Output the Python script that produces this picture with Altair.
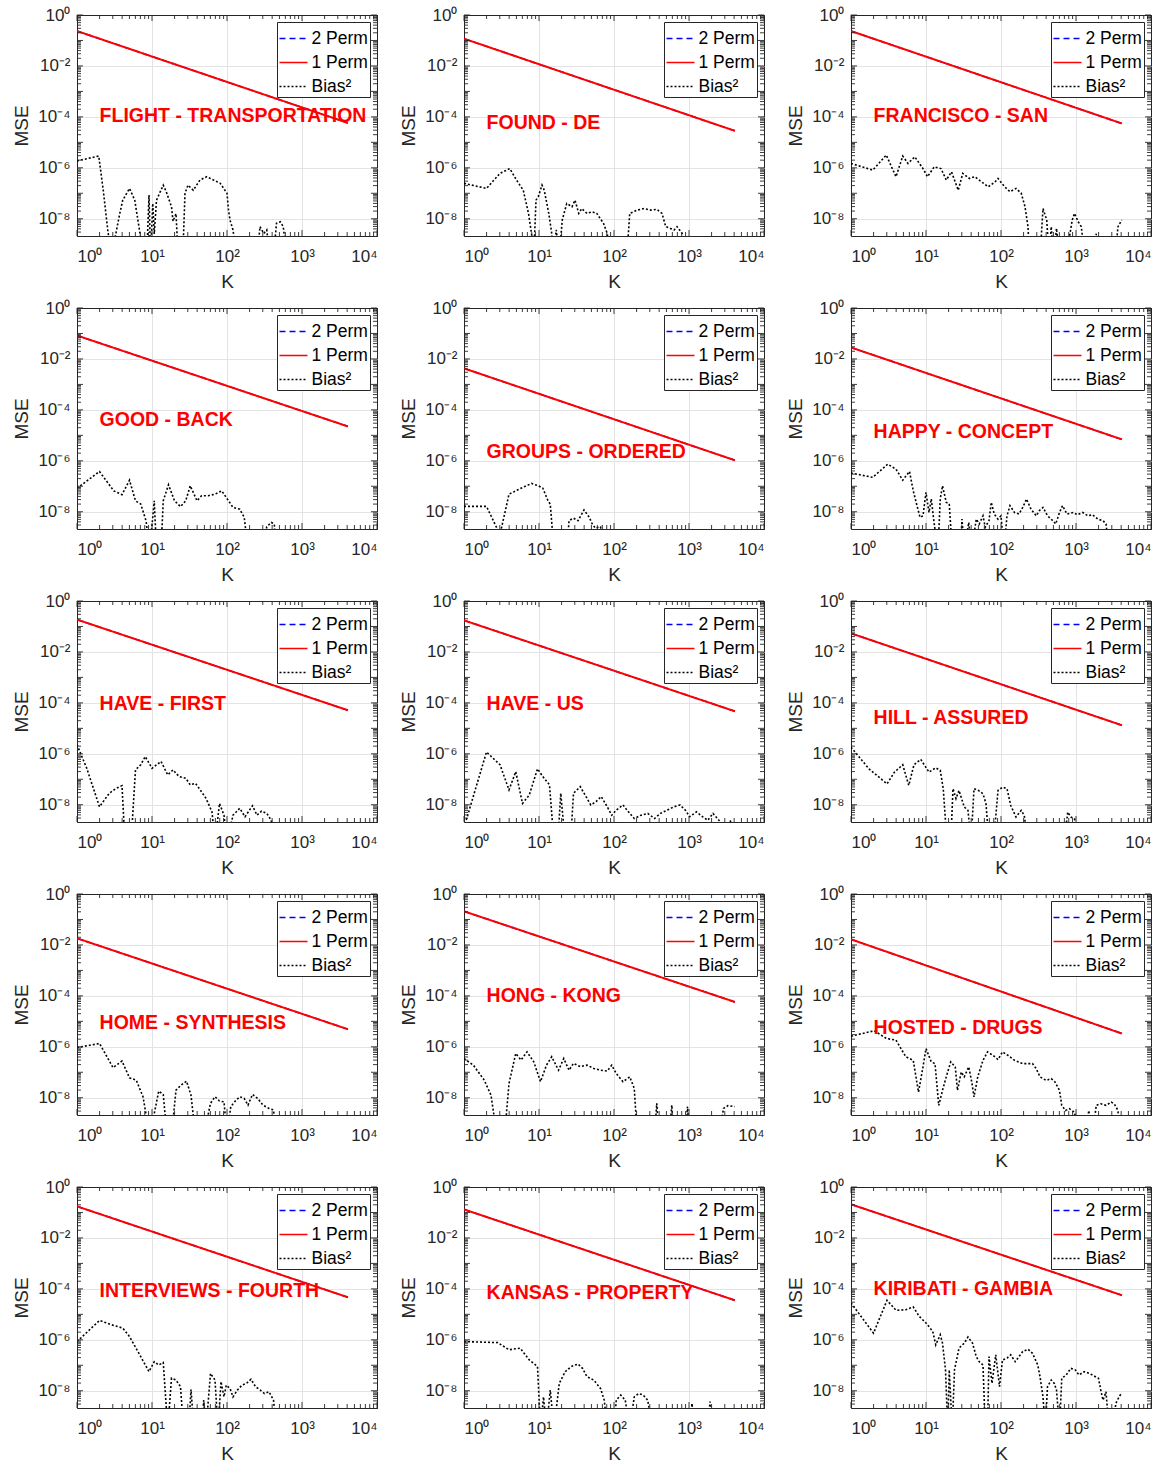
import altair as alt
import pandas as pd

# ---------------- data (log10 values) ----------------
B = -9.5  # below the visible bottom of the axis (clipped)

LABELS = ["FLIGHT - TRANSPORTATION", "FOUND - DE", "FRANCISCO - SAN",
          "GOOD - BACK", "GROUPS - ORDERED", "HAPPY - CONCEPT",
          "HAVE - FIRST", "HAVE - US", "HILL - ASSURED",
          "HOME - SYNTHESIS", "HONG - KONG", "HOSTED - DRUGS",
          "INTERVIEWS - FOURTH", "KANSAS - PROPERTY", "KIRIBATI - GAMBIA"]
LABEL_K = 2
LABEL_LOGY = [-3.97, -4.25, -3.97, -4.41, -5.67, -4.88, -4.06, -4.06, -4.61,
              -5.07, -4.01, -5.27, -4.09, -4.17, -4.01]

K_END = 4096
RED_LOG_START = [-0.63, -0.93, -0.63, -1.08, -2.37, -1.55, -0.73, -0.76, -1.27,
                 -1.74, -0.68, -1.78, -0.76, -0.88, -0.68]
RED_LOG_END = [-4.24, -4.55, -4.26, -4.65, -5.98, -5.16, -4.29, -4.33, -4.88,
               -5.31, -4.24, -5.48, -4.33, -4.45, -4.25]

bias01 = [(0, -5.73), (0.29, -5.54), (0.35, -6.88), (0.41, -8.44), (0.46, B), (0.53, -8.4), (0.57, -7.8),
          (0.61, -7.27), (0.70, -6.81), (0.77, -7.27), (0.84, -8.58), (0.87, B), (0.93, B), (0.96, -7.07),
          (0.98, B), (1.01, -7.4), (1.03, -8.6), (1.06, -7.27), (1.15, -6.68), (1.19, -6.94), (1.26, -7.53),
          (1.28, -8.1), (1.32, -7.8), (1.35, B), (1.41, B), (1.44, -7.0), (1.48, -6.68), (1.55, -6.88),
          (1.64, -6.48), (1.73, -6.35), (1.82, -6.48), (1.91, -6.61), (2.0, -7.0), (2.02, -7.66),
          (2.04, -8.05), (2.08, -8.44), (2.13, B), (2.40, B), (2.44, -8.31), (2.49, -8.58), (2.53, -8.44),
          (2.57, B), (2.62, B), (2.66, -8.18), (2.71, -8.12), (2.75, -8.31), (2.80, B), (3.61, B)]
bias02 = [(0, -6.61), (0.30, -6.81), (0.48, -6.22), (0.61, -6.03), (0.70, -6.48), (0.79, -6.88), (0.86, -7.79),
          (0.90, -8.58), (0.93, B), (0.96, -7.27), (0.99, -7.14), (1.04, -6.68), (1.07, -6.88), (1.13, -7.79),
          (1.17, -8.58), (1.19, B), (1.23, -8.44), (1.27, B), (1.31, -8.05), (1.37, -7.4), (1.44, -7.53),
          (1.48, -7.27), (1.53, -7.79), (1.57, -7.6), (1.64, -7.79), (1.71, -7.73), (1.77, -7.79), (1.86, -8.18),
          (1.91, -8.58), (1.95, B), (2.17, B), (2.21, -7.79), (2.31, -7.66), (2.40, -7.6), (2.49, -7.66),
          (2.57, -7.63), (2.64, -7.79), (2.69, -8.31), (2.75, -8.38), (2.80, -8.44), (2.84, -8.31),
          (2.91, -8.58), (2.95, B), (3.61, B)]
bias03 = [(0, -5.83), (0.29, -6.09), (0.47, -5.50), (0.60, -6.35), (0.69, -5.54), (0.76, -5.83), (0.85, -5.57),
          (0.96, -6.03), (1.02, -6.35), (1.11, -5.96), (1.20, -6.03), (1.27, -6.48), (1.34, -6.16), (1.43, -6.88),
          (1.49, -6.22), (1.58, -6.42), (1.65, -6.35), (1.74, -6.55), (1.83, -6.75), (1.92, -6.55), (1.96, -6.42),
          (2.05, -6.75), (2.12, -6.94), (2.20, -6.81), (2.27, -7.0), (2.32, -7.53), (2.36, -8.31), (2.38, B),
          (2.52, B), (2.56, -7.6), (2.61, -8.05), (2.64, B), (2.67, -8.31), (2.70, B), (2.74, -8.38), (2.78, B),
          (2.88, B), (2.92, -8.58), (2.95, -8.05), (2.98, -7.79), (3.03, -8.12), (3.07, -8.31), (3.12, B),
          (3.25, B), (3.27, -8.58), (3.29, B), (3.52, B), (3.56, -8.31), (3.61, -8.05)]
bias04 = [(0, -7.08), (0.30, -6.42), (0.49, -7.18), (0.60, -7.33), (0.70, -6.76), (0.78, -7.57), (0.85, -7.70),
          (0.92, -8.35), (0.97, B), (1.03, -7.57), (1.06, B), (1.12, B), (1.15, -7.57), (1.22, -6.94),
          (1.30, -7.57), (1.38, -7.80), (1.45, -7.57), (1.51, -6.98), (1.60, -7.57), (1.66, -7.37), (1.75, -7.37),
          (1.84, -7.31), (1.93, -7.18), (2.02, -7.57), (2.08, -7.83), (2.17, -7.90), (2.23, -8.22), (2.28, B),
          (2.47, B), (2.53, -8.59), (2.59, -8.42), (2.63, -8.48), (2.66, B), (3.61, B)]
bias05 = [(0, -7.79), (0.30, -7.79), (0.48, -8.9), (0.60, -7.31), (0.69, -7.18), (0.78, -7.05), (0.90, -6.89),
          (0.99, -6.98), (1.05, -7.07), (1.12, -7.57), (1.15, -7.70), (1.20, B), (1.375, B), (1.40, -8.35),
          (1.46, -8.25), (1.52, -8.35), (1.60, -7.93), (1.67, -8.22), (1.71, -8.48), (1.75, -8.64),
          (1.82, -8.59), (1.87, B), (3.61, B)]
bias06 = [(0, -6.48), (0.29, -6.65), (0.49, -6.13), (0.60, -6.33), (0.69, -6.76), (0.78, -6.42), (0.83, -7.18),
          (0.92, -8.22), (0.96, -8.16), (1.0, -7.24), (1.04, -8.03), (1.07, -7.50), (1.11, -8.48), (1.16, B),
          (1.19, -7.50), (1.22, -6.98), (1.27, -7.63), (1.31, -7.70), (1.35, B), (1.46, B), (1.48, -8.29),
          (1.51, B), (1.57, -8.42), (1.61, B), (1.67, -8.29), (1.71, -8.48), (1.76, -8.16), (1.79, -8.61),
          (1.84, -8.35), (1.87, -7.63), (1.91, -8.09), (1.96, -8.29), (2.0, -8.16), (2.04, B), (2.08, -8.16),
          (2.12, -7.76), (2.18, -8.03), (2.24, -8.09), (2.29, -7.83), (2.34, -7.50), (2.40, -7.90), (2.47, -8.16),
          (2.51, -7.96), (2.56, -7.83), (2.62, -8.16), (2.69, -8.35), (2.73, -8.48), (2.78, -8.03), (2.82, -7.76),
          (2.88, -8.09), (2.96, -8.03), (3.02, -8.12), (3.09, -8.03), (3.16, -8.16), (3.22, -8.12), (3.29, -8.29),
          (3.36, -8.35), (3.40, -8.48), (3.44, B), (3.61, B)]
bias07 = [(0, -5.64), (0.13, -6.57), (0.30, -8.08), (0.43, -7.55), (0.52, -7.36), (0.60, -7.25), (0.64, B),
          (0.72, B), (0.78, -6.63), (0.85, -6.43), (0.91, -6.11), (1.0, -6.57), (1.12, -6.30), (1.21, -6.83),
          (1.28, -6.63), (1.36, -6.89), (1.45, -6.96), (1.51, -7.22), (1.58, -7.16), (1.66, -7.49), (1.72, -7.75),
          (1.80, -8.28), (1.84, B), (1.90, -7.95), (1.96, -8.41), (2.0, B), (2.08, -8.41), (2.17, -8.14),
          (2.24, -8.47), (2.34, -8.04), (2.40, -8.41), (2.46, -8.25), (2.53, -8.34), (2.59, -8.61), (2.62, B),
          (3.61, B)]
bias08 = [(0, -8.9), (0.30, -5.93), (0.48, -6.43), (0.60, -7.42), (0.69, -6.70), (0.78, -7.95), (0.87, -7.62),
          (0.98, -6.59), (1.05, -6.89), (1.14, -7.22), (1.20, B), (1.25, B), (1.29, -7.55), (1.35, B), (1.42, B),
          (1.46, -7.55), (1.55, -7.29), (1.64, -7.75), (1.69, -8.01), (1.76, -7.88), (1.83, -7.68), (1.91, -8.08),
          (1.97, -8.41), (2.03, -8.21), (2.12, -8.01), (2.21, -8.34), (2.27, -8.54), (2.36, -8.41), (2.45, -8.34),
          (2.54, -8.54), (2.62, -8.34), (2.71, -8.21), (2.80, -8.08), (2.88, -8.01), (2.95, -8.21), (3.01, -8.47),
          (3.10, -8.28), (3.18, -8.47), (3.25, -8.61), (3.32, -8.34), (3.40, -8.61), (3.49, B), (3.55, -8.61),
          (3.61, B)]
bias09 = [(0, -5.74), (0.24, -6.59), (0.48, -7.18), (0.58, -6.72), (0.69, -6.43), (0.77, -7.24), (0.84, -6.43),
          (0.93, -6.22), (1.04, -6.72), (1.13, -6.55), (1.19, -6.65), (1.23, -7.37), (1.28, B), (1.33, B),
          (1.36, -7.37), (1.40, -7.76), (1.44, -7.44), (1.51, -8.09), (1.56, -8.22), (1.60, B), (1.64, -7.37),
          (1.70, -7.44), (1.76, -7.57), (1.80, -7.96), (1.84, B), (1.90, B), (1.96, -7.44), (2.02, -7.31),
          (2.08, -7.37), (2.13, -8.03), (2.20, -8.48), (2.27, -8.22), (2.31, -8.42), (2.36, B), (2.84, B),
          (2.89, -8.29), (2.93, -8.48), (2.98, -8.55), (3.02, B), (3.61, B)]
bias10 = [(0, -6.03), (0.30, -5.87), (0.48, -6.82), (0.60, -6.56), (0.70, -7.22), (0.79, -7.31), (0.88, -7.96),
          (0.97, B), (1.09, -7.74), (1.15, -7.87), (1.20, B), (1.26, B), (1.32, -7.70), (1.39, -7.50),
          (1.46, -7.35), (1.52, -7.90), (1.58, B), (1.69, B), (1.78, -8.22), (1.84, -7.96), (1.90, -8.13),
          (1.96, -8.16), (2.0, B), (2.05, -8.35), (2.11, -8.13), (2.17, -7.96), (2.23, -8.03), (2.28, -8.29),
          (2.34, -7.87), (2.41, -8.03), (2.48, -8.29), (2.56, -8.42), (2.62, -8.48), (2.66, B), (3.61, B)]
bias11 = [(0, -6.46), (0.125, -6.72), (0.27, -7.31), (0.36, -7.90), (0.44, B), (0.54, B), (0.60, -7.44),
          (0.69, -6.26), (0.76, -6.52), (0.84, -6.20), (0.93, -6.59), (1.02, -7.37), (1.10, -6.72), (1.17, -6.39),
          (1.26, -6.92), (1.33, -6.46), (1.40, -6.92), (1.46, -6.65), (1.55, -6.78), (1.64, -6.72), (1.73, -6.85),
          (1.82, -6.92), (1.91, -6.95), (1.97, -6.72), (2.03, -7.05), (2.12, -7.37), (2.21, -7.18), (2.27, -7.63),
          (2.31, B), (2.54, B), (2.57, -8.22), (2.60, B), (2.74, B), (2.77, -8.29), (2.80, B), (2.95, B),
          (2.98, -8.35), (3.01, B), (3.40, B), (3.46, -8.42), (3.52, -8.31), (3.61, -8.35)]
bias12 = [(0, -5.58), (0.31, -5.37), (0.47, -5.67), (0.60, -5.74), (0.73, -6.39), (0.83, -6.53), (0.90, -7.78),
          (0.96, -6.79), (1.0, -6.07), (1.07, -6.59), (1.12, -6.66), (1.17, -8.30), (1.22, -7.71), (1.27, -7.18),
          (1.33, -6.59), (1.39, -6.79), (1.42, -7.71), (1.47, -6.99), (1.51, -7.18), (1.57, -6.79), (1.61, -7.38),
          (1.64, -7.97), (1.69, -7.18), (1.76, -6.53), (1.82, -6.20), (1.89, -6.33), (1.96, -6.50), (2.02, -6.20),
          (2.09, -6.33), (2.18, -6.53), (2.29, -6.66), (2.42, -6.66), (2.47, -6.86), (2.52, -7.18), (2.60, -7.32),
          (2.67, -7.25), (2.72, -7.38), (2.78, -7.71), (2.81, -8.30), (2.86, -8.50), (2.91, -8.43), (2.98, -8.57),
          (3.04, B), (3.13, B), (3.17, -8.50), (3.22, B), (3.27, -8.30), (3.33, -8.24), (3.40, -8.30),
          (3.47, -8.17), (3.51, -8.24), (3.56, -8.50), (3.58, B), (3.61, B)]
bias13 = [(0, -6.07), (0.30, -5.24), (0.46, -5.41), (0.61, -5.54), (0.70, -5.87), (0.85, -6.66), (0.96, -7.25),
          (1.03, -6.86), (1.09, -6.99), (1.15, -6.89), (1.21, B), (1.26, -7.51), (1.32, -7.58), (1.38, -7.84),
          (1.42, B), (1.49, B), (1.52, -7.95), (1.56, B), (1.66, B), (1.69, -8.37), (1.72, B), (1.78, -7.32),
          (1.84, -7.58), (1.88, B), (1.92, -7.64), (1.96, -8.24), (1.99, -7.78), (2.04, -7.91), (2.08, -8.24),
          (2.14, -7.97), (2.20, -7.78), (2.26, -7.71), (2.32, -7.55), (2.38, -7.84), (2.44, -7.97), (2.50, -8.11),
          (2.56, -8.04), (2.62, -8.37), (2.66, B), (3.61, B)]
bias14 = [(0, -6.07), (0.45, -6.11), (0.60, -6.39), (0.75, -6.33), (0.87, -6.79), (0.98, -7.05), (1.02, B),
          (1.06, -8.24), (1.10, B), (1.15, -7.97), (1.20, B), (1.27, -7.71), (1.35, -7.25), (1.43, -7.05),
          (1.52, -6.95), (1.58, -7.12), (1.64, -7.45), (1.73, -7.58), (1.82, -7.91), (1.87, -8.37), (1.91, B),
          (2.0, B), (2.03, -8.37), (2.09, -8.17), (2.15, -8.37), (2.21, B), (2.27, -8.24), (2.33, -8.11),
          (2.39, -8.17), (2.45, -8.37), (2.51, B), (3.01, B), (3.04, -8.5), (3.07, B), (3.25, B), (3.28, -8.43),
          (3.32, B), (3.61, B)]
bias15 = [(0, -4.55), (0.30, -5.74), (0.48, -4.45), (0.60, -4.84), (0.73, -4.82), (0.83, -4.71), (0.91, -5.08),
          (1.0, -5.34), (1.09, -5.67), (1.13, -6.20), (1.19, -5.80), (1.22, -6.13), (1.26, -7.18), (1.29, B),
          (1.31, -7.18), (1.35, B), (1.38, -7.18), (1.44, -6.33), (1.51, -6.13), (1.56, -5.89), (1.62, -6.13),
          (1.67, -6.66), (1.71, -6.86), (1.76, -6.99), (1.79, B), (1.82, B), (1.84, -6.66), (1.88, -7.71),
          (1.93, -6.59), (1.98, -7.84), (2.02, -6.79), (2.08, -6.72), (2.13, -6.59), (2.19, -6.86), (2.24, -6.66),
          (2.29, -6.46), (2.36, -6.37), (2.42, -6.53), (2.49, -6.99), (2.52, -7.45), (2.56, -8.24), (2.59, B),
          (2.62, -7.84), (2.67, -7.58), (2.71, -7.71), (2.74, -7.97), (2.78, B), (2.81, -7.51), (2.87, -7.38),
          (2.93, -7.12), (2.99, -7.18), (3.04, -7.38), (3.11, -7.25), (3.18, -7.32), (3.24, -7.42), (3.30, -7.51),
          (3.33, -7.97), (3.36, -8.37), (3.40, -8.04), (3.44, B), (3.50, B), (3.53, -8.50), (3.58, -8.21),
          (3.60, -8.13)]

BIAS = [bias01, bias02, bias03, bias04, bias05, bias06, bias07, bias08, bias09,
        bias10, bias11, bias12, bias13, bias14, bias15]

SERIES = ["2 Perm", "1 Perm", "Bias\u00b2"]
COLORS = ["#0000ff", "#ff0000", "#000000"]
DASHES = [[6, 4], [1, 0], [2, 2]]

X_TICKS = [1, 10, 100, 1000, 10000]
Y_TICKS = [1, 1e-2, 1e-4, 1e-6, 1e-8]
Y_DOMAIN = [2.1e-9, 1]
X_DOMAIN = [1, 10000]

# inward tick marks of the boxed axes (decades and 2..9 sub-decades)
MINOR_MULT = [2, 3, 4, 5, 6, 7, 8, 9]
X_MAJOR_T = [1, 10, 100, 1000, 10000]
X_MINOR_T = [m * 10 ** e for e in range(0, 4) for m in MINOR_MULT]
Y_MAJOR_T = [10.0 ** e for e in range(-8, 1)]
Y_MINOR_T = [m * 10.0 ** e for e in range(-9, 0) for m in MINOR_MULT if m * 10.0 ** e >= Y_DOMAIN[0]]

FONT = "Liberation Sans"
INK = "#262626"
GRID = "#e3e3e3"

SUP = "['\u2070','\u00b9','\u00b2','\u00b3','\u2074','\u2075','\u2076','\u2077','\u2078','\u2079']"
LABEL_EXPR = ("'10' + (round(log(datum.value)/LN10) < 0 ? '\u207b' : '') + "
              + SUP + "[abs(round(log(datum.value)/LN10))]")

W, H = 300, 221


def make_panel(i):
    red = pd.DataFrame({"K": [1, K_END], "MSE": [10 ** RED_LOG_START[i], 10 ** RED_LOG_END[i]],
                        "series": SERIES[1]})
    blue = red.assign(series=SERIES[0])
    bias = pd.DataFrame({"K": [10 ** p[0] for p in BIAS[i]],
                         "MSE": [10 ** p[1] for p in BIAS[i]],
                         "series": SERIES[2]})
    lab = pd.DataFrame({"K": [LABEL_K], "MSE": [10 ** LABEL_LOGY[i]], "t": [LABELS[i]]})

    xs = alt.Scale(type="log", domain=X_DOMAIN, nice=False)
    ys = alt.Scale(type="log", domain=Y_DOMAIN, nice=False)
    x = alt.X("K:Q", scale=xs,
              axis=alt.Axis(values=X_TICKS, labelExpr=LABEL_EXPR, title="K", grid=True,
                            gridColor={"condition": {"test": "datum.value >= 10000", "value": INK},
                                       "value": GRID},
                            ticks=False, domain=True, domainColor=INK, labelPadding=12, titlePadding=8))
    y = alt.Y("MSE:Q", scale=ys,
              axis=alt.Axis(values=Y_TICKS, labelExpr=LABEL_EXPR, title="MSE", grid=True,
                            gridColor={"condition": {"test": "datum.value >= 1", "value": INK},
                                       "value": GRID},
                            ticks=False, domain=True, domainColor=INK, labelPadding=7, titlePadding=6))
    leg = alt.Legend(title=None, orient="top-right", offset=7, fillColor="white",
                     strokeColor=INK, padding=1.5, labelFontSize=17.5, labelFont=FONT,
                     labelColor="#000000", symbolType="stroke", symbolSize=784,
                     symbolStrokeWidth=1.5, rowPadding=0, labelOffset=3)
    color = alt.Color("series:N", scale=alt.Scale(domain=SERIES, range=COLORS), legend=leg)
    dash = alt.StrokeDash("series:N", scale=alt.Scale(domain=SERIES, range=DASHES), legend=leg)

    xmaj = pd.DataFrame({"K": X_MAJOR_T})
    xmin = pd.DataFrame({"K": X_MINOR_T})
    ymaj = pd.DataFrame({"MSE": Y_MAJOR_T})
    ymin = pd.DataFrame({"MSE": Y_MINOR_T})
    tick_layers = []
    for df, size in ((xmaj, 6), (xmin, 4)):
        for yv in (H - size / 2, size / 2):
            tick_layers.append(alt.Chart(df).mark_tick(color=INK, size=size, thickness=1, opacity=0.9)
                               .encode(x=alt.X("K:Q", scale=xs), y=alt.value(yv)))
    for df, size in ((ymaj, 6), (ymin, 4)):
        for xv in (size / 2, W - size / 2):
            tick_layers.append(alt.Chart(df).mark_tick(color=INK, size=size, thickness=1, opacity=0.9,
                                                       orient="horizontal")
                               .encode(y=alt.Y("MSE:Q", scale=ys), x=alt.value(xv)))

    l_blue = alt.Chart(blue).mark_line(strokeWidth=1.5, clip=True).encode(x=x, y=y, color=color, strokeDash=dash)
    l_red = alt.Chart(red).mark_line(strokeWidth=2, clip=True).encode(x=x, y=y, color=color, strokeDash=dash)
    l_bias = alt.Chart(bias).mark_line(strokeWidth=1.6, clip=True).encode(x=x, y=y, color=color, strokeDash=dash)
    txt = alt.Chart(lab).mark_text(align="left", baseline="middle", color="#ff0000", fontWeight="bold",
                                   fontSize=19.5, font=FONT).encode(x=x, y=y, text="t:N")
    return alt.layer(l_blue, l_red, l_bias, *tick_layers, txt).properties(
        width=W, height=H, view=alt.ViewBackground(stroke=INK, strokeWidth=1, fill="white"))


panels = [make_panel(i) for i in range(15)]

chart = (
    alt.concat(*panels, columns=3, spacing={"row": 72, "column": 87}, bounds="flush")
    .resolve_scale(x="independent", y="independent", color="independent", strokeDash="independent")
    .resolve_axis(x="independent", y="independent")
    .resolve_legend(color="independent", strokeDash="independent")
    .properties(padding={"left": 12, "top": 5, "right": 5, "bottom": 5}, background="white")
    .configure_view(stroke=INK, strokeWidth=1)
    .configure_axis(labelFont=FONT, labelFontSize=17, labelColor=INK, titleFont=FONT,
                    titleFontSize=19, titleFontWeight="normal", titleColor=INK,
                    gridColor=GRID, gridWidth=1)
)

chart.save("out.html", embed_options={"renderer": "svg", "actions": False})
